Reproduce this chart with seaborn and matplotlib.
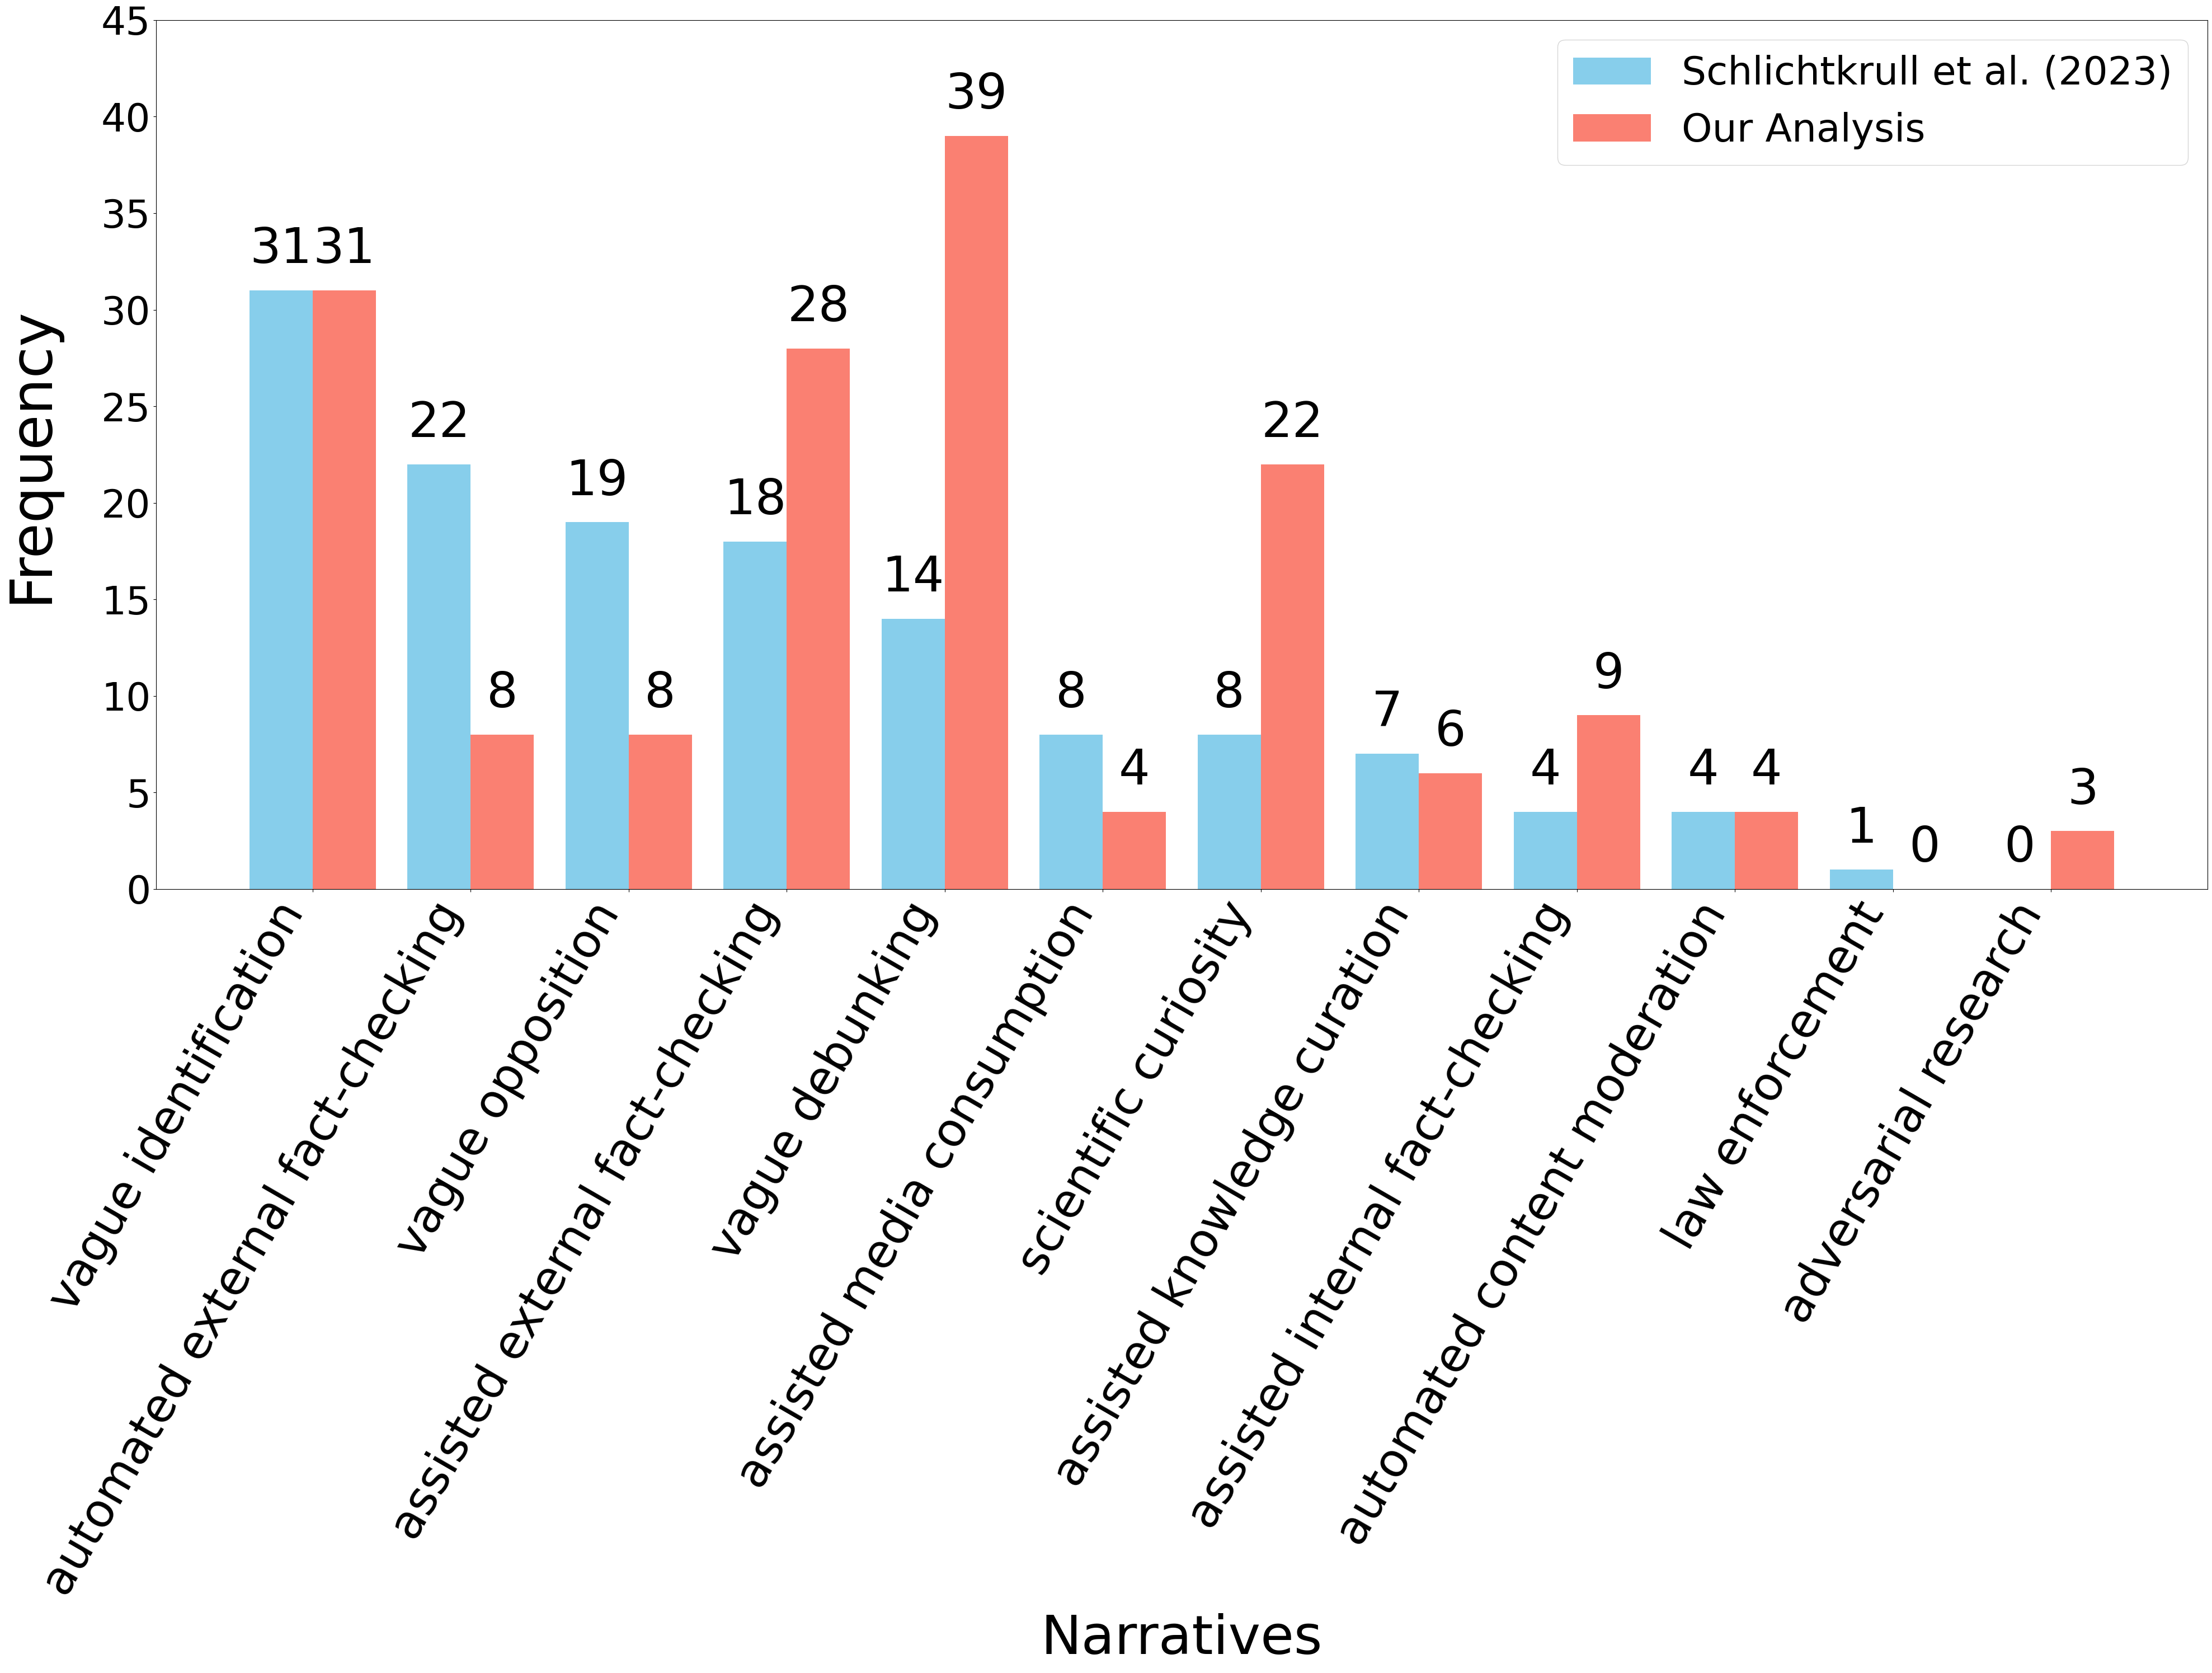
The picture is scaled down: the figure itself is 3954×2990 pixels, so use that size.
import matplotlib
matplotlib.use("Agg")
import matplotlib.pyplot as plt
import seaborn as sns
import pandas as pd

narratives = [
    "vague identification",
    "automated external fact-checking",
    "vague opposition",
    "assisted external fact-checking",
    "vague debunking",
    "assisted media consumption",
    "scientific curiosity",
    "assisted knowledge curation",
    "assisted internal fact-checking",
    "automated content moderation",
    "law enforcement",
    "adversarial research",
]
schlichtkrull = [31, 22, 19, 18, 14, 8, 8, 7, 4, 4, 1, 0]
ours = [31, 8, 8, 28, 39, 4, 22, 6, 9, 4, 0, 3]
series_names = ["Schlichtkrull et al. (2023)", "Our Analysis"]
colors = ["#87CEEB", "#FA8072"]
yticks = list(range(0, 50, 5))

df = pd.DataFrame({
    "Narrative": narratives * 2,
    "Frequency": schlichtkrull + ours,
    "Source": [series_names[0]] * len(narratives) + [series_names[1]] * len(narratives),
})

fig = plt.figure(figsize=(39.54, 29.90), dpi=100)
ax = fig.add_axes([0.0706, 0.4686, 0.998 - 0.0706, 0.988 - 0.4686])

sns.barplot(data=df, x="Narrative", y="Frequency", hue="Source",
            order=narratives, hue_order=series_names, palette=colors,
            width=0.8, linewidth=0, saturation=1, ax=ax, errorbar=None)

for cont in ax.containers:
    ax.bar_label(cont, fmt="%d", padding=22, fontsize=63)

ax.set_xlim(-0.99, 11.99)
ax.set_ylim(0, 45)
ax.set_yticks(yticks)
ax.tick_params(axis="y", labelsize=50)
ax.tick_params(axis="x", labelsize=60)
plt.setp(ax.get_xticklabels(), rotation=60, ha="right", rotation_mode="default")
ax.set_xlabel("Narratives", fontsize=70, labelpad=12)
ax.set_ylabel("Frequency", fontsize=74, labelpad=54)

ax.legend(title=None, fontsize=50, loc="upper right")

fig.savefig("out.png", dpi=100)
